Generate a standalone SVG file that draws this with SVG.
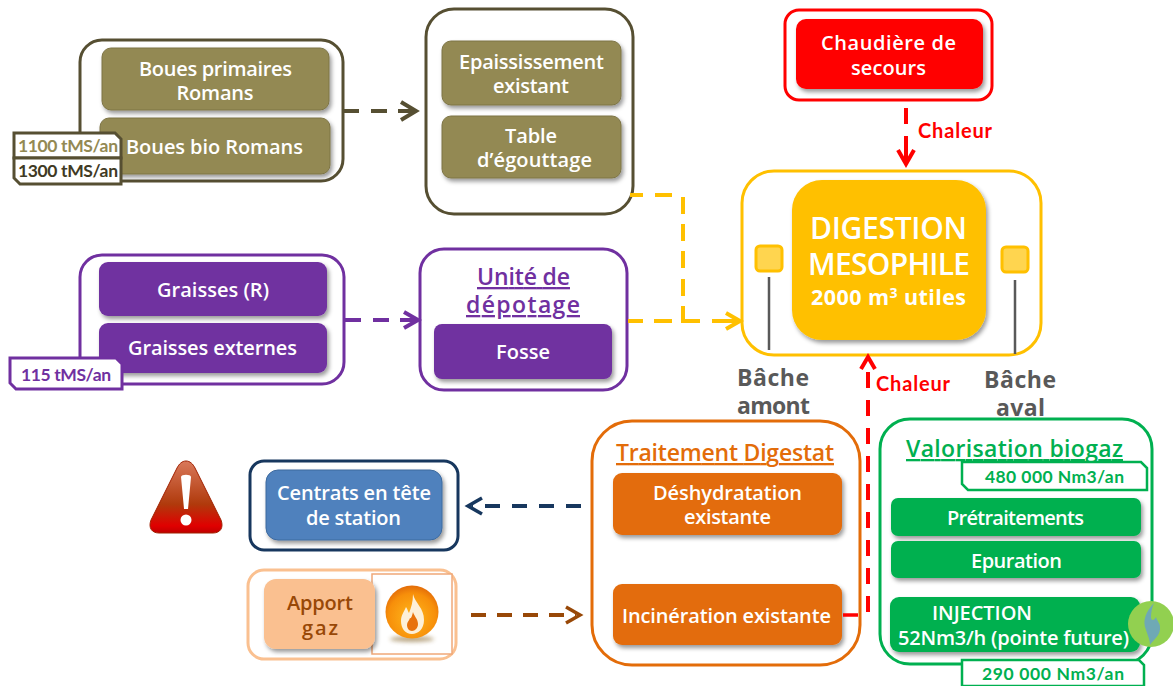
<svg xmlns="http://www.w3.org/2000/svg" width="1173" height="686" viewBox="0 0 1173 686">
<defs>
<style>
text{font-family:"Open Sans","Noto Sans","Liberation Sans",sans-serif;font-weight:600;text-anchor:middle}
.w{fill:#fff;font-size:20px}
.o{fill:#fff;stroke-width:3}
.chip{font-family:Lato,"Open Sans",sans-serif;font-weight:700;font-size:17.500px}
.c{fill:none;stroke-width:4}
.t{font-size:23px;text-decoration:underline}
.inner{filter:url(#sh)}
.tank{fill:#595959;font-size:23px;font-weight:700}
.lbl{fill:#ff0000;font-size:20px;font-weight:700;font-family:Lato,sans-serif}
.d{fill:#fff;font-size:30px}
</style>
<filter id="sh" x="-10%" y="-10%" width="125%" height="130%"><feDropShadow dx="2" dy="3" stdDeviation="2" flood-color="#000" flood-opacity=".4"/></filter>
<filter id="bl" x="-30%" y="-200%" width="160%" height="500%"><feGaussianBlur stdDeviation="2"/></filter>
<radialGradient id="fl" cx="50%" cy="60%" r="60%"><stop offset="0" stop-color="#ffb81c"/><stop offset=".75" stop-color="#f78f0a"/><stop offset="1" stop-color="#e36c09"/></radialGradient>
<linearGradient id="wr" x1="0" y1="0" x2="0" y2="1"><stop offset="0" stop-color="#d9785a"/><stop offset=".6" stop-color="#b03a0c"/><stop offset=".9" stop-color="#e00000"/><stop offset="1" stop-color="#c00000"/></linearGradient>
</defs>
<rect width="1173" height="686" fill="#fff"/>

<g id="node-boues">
<rect class="o" x="80" y="40" width="263" height="141" rx="22" stroke="#564f32"/>
<rect class="inner" x="102" y="48" width="227" height="62" rx="9" fill="#938953" stroke="#7d7446"/>
<text class="w" x="215.500" y="76" textLength="153">Boues primaires</text><text class="w" x="215" y="100" textLength="77">Romans</text>
<rect class="inner" x="100" y="118" width="230" height="56" rx="9" fill="#938953" stroke="#7d7446"/>
<text class="w" x="214.500" y="154" textLength="177">Boues bio Romans</text>
<path d="M14 133H115L121 139V158H14Z" fill="#fff" stroke="#564f32" stroke-width="3"/>
<text class="chip" x="68" y="152" fill="#938953" textLength="100">1100 tMS/an</text>
<path d="M14 158H121V184H20L14 178Z" fill="#fff" stroke="#564f32" stroke-width="3"/>
<text class="chip" x="68" y="177" fill="#3f3a24" textLength="100">1300 tMS/an</text>
</g>

<g id="node-epaississement">
<rect class="o" x="426" y="9" width="207" height="205" rx="28" stroke="#564f32"/>
<rect class="inner" x="442" y="41" width="179" height="64" rx="9" fill="#938953" stroke="#7d7446"/>
<text class="w" x="531.500" y="69" textLength="145">Epaississement</text><text class="w" x="531" y="93" textLength="76">existant</text>
<rect class="inner" x="442" y="116" width="179" height="62" rx="9" fill="#938953" stroke="#7d7446"/>
<text class="w" x="531" y="143" textLength="52">Table</text><text class="w" x="534.500" y="167" textLength="115">d’égouttage</text>
</g>

<g id="node-chaudiere">
<rect class="o" x="785" y="10" width="207" height="90" rx="14" stroke="#ff0000"/>
<rect class="inner" x="796" y="19" width="187" height="70" rx="10" fill="#ff0000"/>
<text class="w" x="888.500" y="50" textLength="135">Chaudière de</text><text class="w" x="888.500" y="75" textLength="75">secours</text>
</g>

<g id="node-digestion">
<rect class="o" x="742" y="171" width="299" height="184" rx="32" stroke="#ffc000"/>
<rect class="inner" x="792" y="180" width="194" height="160" rx="30" fill="#ffc000"/>
<text class="d" x="888.500" y="239" textLength="157">DIGESTION</text>
<text class="d" x="889" y="275" textLength="162">MESOPHILE</text>
<text x="888.500" y="305" fill="#fff" style="font-size:21.500px;font-weight:700" textLength="155">2000 m<tspan dy="-7" font-size="14">3</tspan><tspan dy="7"> utiles</tspan></text>
<rect x="756" y="246" width="26" height="25" rx="4" fill="#ffd54f" stroke="#ffc000" stroke-width="3"/>
<rect x="1002" y="247" width="26" height="25" rx="4" fill="#ffd54f" stroke="#ffc000" stroke-width="3"/>
<path d="M769 277V350M1015 280V354" stroke="#595959" stroke-width="2.500"/>
<text class="tank" x="773" y="386" textLength="72">Bâche</text><text class="tank" x="773.500" y="414" textLength="73">amont</text>
<text class="tank" x="1020" y="388" textLength="72">Bâche</text><text class="tank" x="1020.500" y="416" textLength="49">aval</text>
</g>

<text class="lbl" x="955" y="138" textLength="74">Chaleur</text>
<text class="lbl" x="913" y="391" textLength="74">Chaleur</text>

<g id="node-graisses">
<rect class="o" x="80" y="255" width="264" height="129" rx="22" stroke="#7030a0"/>
<rect class="inner" x="99" y="262" width="228" height="54" rx="9" fill="#7030a0"/>
<text class="w" x="213" y="297" textLength="112">Graisses (R)</text>
<rect class="inner" x="99" y="323" width="228" height="50" rx="9" fill="#7030a0"/>
<text class="w" x="212.500" y="355" textLength="169">Graisses externes</text>
<path d="M10 358H116L122 364V389H16L10 383Z" fill="#fff" stroke="#7030a0" stroke-width="3"/>
<text class="chip" x="66" y="381" fill="#7030a0" textLength="90">115 tMS/an</text>
</g>

<g id="node-depotage">
<rect class="o" x="420" y="249" width="207" height="141" rx="24" stroke="#7030a0"/>
<text class="t" x="523.500" y="285" fill="#7030a0" textLength="93">Unité de</text><text class="t" x="523" y="313" fill="#7030a0" textLength="114">dépotage</text>
<rect class="inner" x="434" y="324" width="178" height="55" rx="8" fill="#7030a0"/>
<text class="w" x="523" y="359" textLength="54">Fosse</text>
</g>

<g id="node-digestat">
<rect class="o" x="592" y="421" width="268" height="244" rx="40" stroke="#e36c09"/>
<text class="t" x="725" y="461" fill="#e36c09" textLength="218">Traitement Digestat</text>
<rect class="inner" x="613" y="473" width="229" height="62" rx="9" fill="#e36c09"/>
<text class="w" x="727.500" y="500" textLength="149">Déshydratation</text><text class="w" x="727.500" y="524" textLength="87">existante</text>
<rect class="inner" x="613" y="584" width="229" height="61" rx="9" fill="#e36c09"/>
<text class="w" x="726.500" y="623" textLength="209">Incinération existante</text>
</g>

<g id="node-valorisation">
<rect class="o" x="880" y="419" width="272" height="245" rx="30" stroke="#00b050"/>
<text class="t" x="1014.500" y="457" fill="#00b050" textLength="217">Valorisation biogaz</text>
<path d="M962 462H1141L1147 468V490H968L962 484Z" fill="#fff" stroke="#00b050" stroke-width="2.500"/>
<text class="chip" x="1054.500" y="483" fill="#00b050" textLength="139">480 000 Nm3/an</text>
<rect class="inner" x="891" y="498" width="250" height="38" rx="7" fill="#00b050"/>
<text class="w" x="1015.500" y="525" textLength="137">Prétraitements</text>
<rect class="inner" x="891" y="541" width="250" height="37" rx="7" fill="#00b050"/>
<text class="w" x="1016.500" y="568" textLength="91">Epuration</text>
<rect class="inner" x="890" y="597" width="250" height="55" rx="9" fill="#00b050"/>
<text class="w" x="982" y="620" textLength="100">INJECTION</text><text class="w" x="1013.500" y="645" textLength="231">52Nm3/h (pointe future)</text>
<circle cx="1151" cy="624" r="23" fill="#92d050"/>
<path d="M1154 603C1146 612 1142 620 1146 630 1148 636 1150 640 1150 645 1153 640 1161 635 1160 627 1160 623 1157 621 1156 617 1154 621 1151 621 1151 617 1151 612 1152 608 1154 603Z" fill="#6fa9b5"/>
<path d="M962 660H1139L1144 665V686H962Z" fill="#fff" stroke="#00b050" stroke-width="2.500"/>
<text class="chip" x="1053" y="680" fill="#00b050" textLength="142">290 000  Nm3/an</text>
</g>

<g id="node-centrats">
<rect class="o" x="250" y="461" width="208" height="89" rx="14" stroke="#17375e"/>
<rect class="inner" x="266" y="470" width="176" height="70" rx="12" fill="#4f81bd" stroke="#3d6a9e"/>
<text class="w" x="354" y="500" textLength="154">Centrats en tête</text><text class="w" x="353.500" y="525" textLength="95">de station</text>
</g>

<g id="warning">
<path d="M186 461C182 461 179 464 177 468L151 520C148 528 152 533 159 533H213C220 533 224 528 221 520L195 468C193 464 190 461 186 461Z" fill="url(#wr)" stroke="#a02000" stroke-width="1"/>
<path d="M181 477C181 474 191 474 191 477L188 509H184Z" fill="#fff"/>
<circle cx="186" cy="520" r="5.500" fill="#fff"/>
</g>

<g id="node-apport">
<rect class="o" x="248" y="570" width="208" height="89" rx="16" stroke="#fac090"/>
<rect x="372" y="574" width="80" height="80" fill="#fff" stroke="#f0a878" stroke-width="1.500"/>
<rect class="inner" x="264" y="579" width="111" height="70" rx="12" fill="#fac090"/>
<text x="320" y="610" fill="#984807" style="font-size:20px" textLength="66">Apport</text><text x="320" y="635" fill="#984807" style="font-size:20px" textLength="36">gaz</text>
<ellipse cx="412" cy="639" rx="22" ry="3" fill="#8a6a30" opacity=".6" filter="url(#bl)"/>
<circle cx="412" cy="612" r="26.500" fill="url(#fl)"/>
<path d="M413 594C415 603 424 608 424 620 424 629 418 634 412 634 405 634 401 628 401 621 401 615 404 612 406 607 408 610 408 612 409 613 411 608 413 602 413 594Z" fill="#fdf0d8"/>
<path d="M413 612C414 616 418 619 418 624 418 628 415 631 412 631 409 631 407 628 407 625 407 622 409 621 410 618 411 619 412 616 413 612Z" fill="#e8720c"/>
</g>

<g id="connectors" fill="none">
<path d="M343 111H400" class="c" stroke="#564f32" stroke-dasharray="16 12"/>
<path d="M401 102 416 111 401 120M398 111H414" stroke="#564f32" stroke-width="4"/>
<path d="M345 320H402" class="c" stroke="#7030a0" stroke-dasharray="16 12"/>
<path d="M404 312 418 320 404 328M400 320H416" stroke="#7030a0" stroke-width="4"/>
<path d="M630 195H643M655 195H672M683 197V214M683 224V241M683 251V268M683 279V296M683 306V321H700M712 321H738" class="c" stroke="#ffc000"/>
<path d="M628 321H643M654 321H672" class="c" stroke="#ffc000"/>
<path d="M726 313 740 321 726 329" stroke="#ffc000" stroke-width="4"/>
<path d="M906 108V124M906 136V163" class="c" stroke="#ff0000"/>
<path d="M898 150 906 164 914 150" stroke="#ff0000" stroke-width="4"/>
<path d="M843 615H858" stroke="#ff0000" stroke-width="3.500"/>
<path d="M868 612V360" class="c" stroke="#ff0000" stroke-dasharray="16 12"/>
<path d="M861 369 868 357 875 369" stroke="#ff0000" stroke-width="4"/>
<path d="M581 506H472" class="c" stroke="#17375e" stroke-dasharray="15 12"/>
<path d="M482 498 468 506 482 514" stroke="#17375e" stroke-width="3.500"/>
<path d="M471 615H576" class="c" stroke="#984807" stroke-dasharray="15 11"/>
<path d="M566 607 580 615 566 623" stroke="#984807" stroke-width="3.500"/>
</g>
</svg>
